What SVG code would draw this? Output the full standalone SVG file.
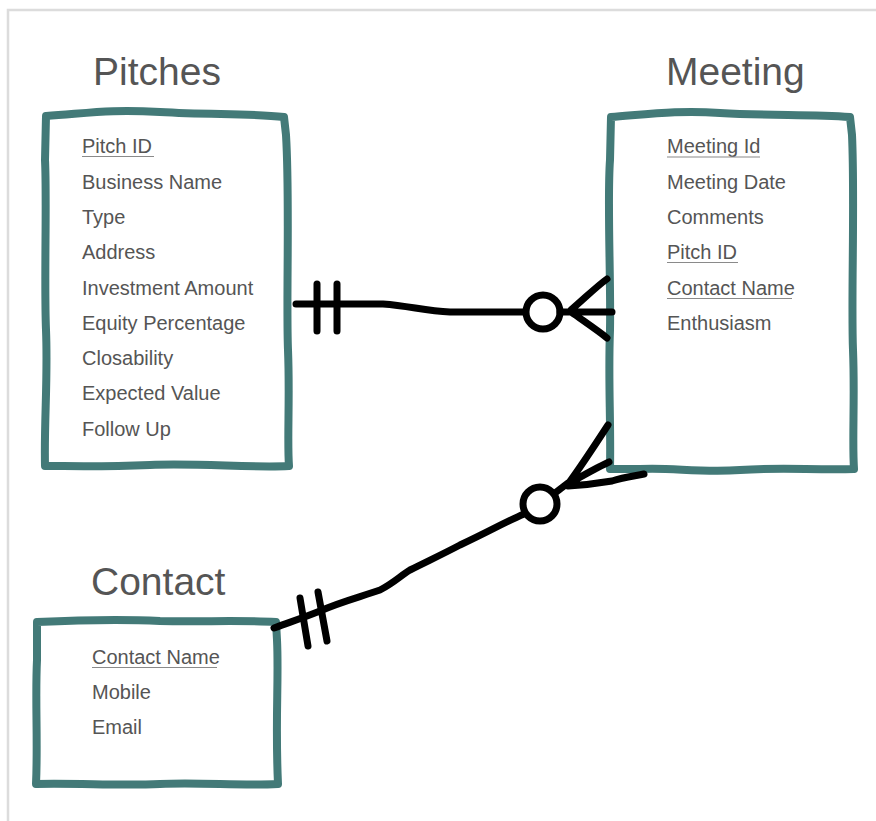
<svg xmlns="http://www.w3.org/2000/svg" width="876" height="821" viewBox="0 0 876 821">
<style>
.frame{stroke:#dcdcdc;stroke-width:2.5;fill:none}
.box{fill:none;stroke:#437a78;stroke-width:8;stroke-linejoin:round;stroke-linecap:round}
.title{font-family:"Liberation Sans",Arial,sans-serif;font-size:39px;fill:#555}
.attr{font-family:"Liberation Sans",Arial,sans-serif;font-size:20px;fill:#555}
.ul{stroke:#8a8a8a;stroke-width:1.2}
.conn{fill:none;stroke:#000;stroke-width:7;stroke-linecap:round;stroke-linejoin:round}
</style>
<rect width="876" height="821" fill="#fff"/>
<path class="frame" d="M8,821 L8,10 L876,10"/>

<g id="pitches">
<text class="title" x="93" y="85">Pitches</text>
<path class="box" d="M46,116 C90,113 110,109 160,112 C210,115 250,113 284,117 L286,135 C290,200 286,300 288,350 C290,400 287,440 289,466 C250,468 200,463 150,465 C100,467 70,466 45,466 C44,420 48,380 46,330 C44,280 47,200 45,160 Z"/>
<text class="attr" x="82" y="153">Pitch ID</text>
<line class="ul" x1="82" y1="156.5" x2="154" y2="156.5"/>
<text class="attr" x="82" y="189">Business Name</text>
<text class="attr" x="82" y="224">Type</text>
<text class="attr" x="82" y="259">Address</text>
<text class="attr" x="82" y="295">Investment Amount</text>
<text class="attr" x="82" y="330">Equity Percentage</text>
<text class="attr" x="82" y="365">Closability</text>
<text class="attr" x="82" y="400">Expected Value</text>
<text class="attr" x="82" y="436">Follow Up</text>
</g>

<g id="meeting">
<text class="title" x="666" y="85">Meeting</text>
<path class="box" d="M611,117 C650,114 680,110 720,113 C770,116 810,114 850,117 L852,135 C855,200 851,300 853,350 C855,400 852,440 854,469 C810,470 780,467 740,470 C700,473 670,467 640,469 L610,469 C611,420 608,380 610,330 C611,280 607,200 610,160 Z"/>
<text class="attr" x="667" y="153">Meeting Id</text>
<line class="ul" x1="667" y1="157" x2="760" y2="157"/>
<text class="attr" x="667" y="189">Meeting Date</text>
<text class="attr" x="667" y="224">Comments</text>
<text class="attr" x="667" y="259">Pitch ID</text>
<line class="ul" x1="667" y1="262.5" x2="738" y2="262.5"/>
<text class="attr" x="667" y="295">Contact Name</text>
<line class="ul" x1="667" y1="298.5" x2="792" y2="298.5"/>
<text class="attr" x="667" y="330">Enthusiasm</text>
</g>

<g id="contact">
<text class="title" x="91" y="595">Contact</text>
<path class="box" d="M37,622 C80,620 120,619 160,621 C200,622 240,620 276,622 L277,640 C279,680 275,720 278,784 C240,786 200,782 160,784 C120,786 80,783 36,784 C38,740 35,700 37,660 Z"/>
<text class="attr" x="92" y="664">Contact Name</text>
<line class="ul" x1="92" y1="667.5" x2="217" y2="667.5"/>
<text class="attr" x="92" y="699">Mobile</text>
<text class="attr" x="92" y="734">Email</text>
</g>

<g id="connectors">
<path class="conn" d="M296,304 L383,304 C410,306 425,311 450,312 L525,312"/>
<line class="conn" x1="317" y1="284" x2="317" y2="331"/>
<line class="conn" x1="337" y1="284" x2="337" y2="331"/>
<circle class="conn" cx="543" cy="312" r="17"/>
<path class="conn" d="M560,312 L612,312 M571,310 C585,298 597,286 607,279 M571,312 C585,322 597,330 607,338"/>

<path class="conn" d="M274,628 C290,622 300,619 320,611 C340,602 360,597 380,590 C395,582 400,576 410,570 C430,560 445,553 460,545 C490,531 505,522 524,514"/>
<line class="conn" x1="300" y1="598" x2="308" y2="646"/>
<line class="conn" x1="318" y1="592" x2="327" y2="641"/>
<circle class="conn" cx="540" cy="504" r="17"/>
<path class="conn" d="M555,493 L568,483 M568,484 C580,468 595,445 608,425 M568,484 C582,476 596,468 609,462 M568,486 C585,485 600,483 612,481 C625,477 635,476 644,474"/>
</g>
</svg>
